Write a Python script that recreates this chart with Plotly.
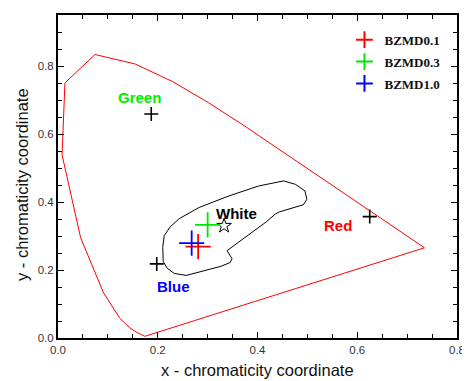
import plotly.graph_objects as go

# CIE 1931 spectral locus (closed by the purple line)
locus_x = [0.1741, 0.1644, 0.1566, 0.1440, 0.1241, 0.0913, 0.0454, 0.0082, 0.0139,
           0.0743, 0.1547, 0.2296, 0.3016, 0.3731, 0.4441, 0.5125, 0.5752, 0.6270,
           0.6658, 0.6915, 0.7347, 0.1741]
locus_y = [0.0050, 0.0109, 0.0177, 0.0297, 0.0578, 0.1327, 0.2950, 0.5384, 0.7502,
           0.8338, 0.8059, 0.7543, 0.6923, 0.6245, 0.5547, 0.4866, 0.4242, 0.3725,
           0.3340, 0.3083, 0.2653, 0.0050]

# white-light region contour
white_x = [0.210, 0.213, 0.225, 0.243, 0.283, 0.343, 0.402, 0.452, 0.476, 0.495,
           0.499, 0.492, 0.444, 0.436, 0.418, 0.382, 0.343, 0.339, 0.349, 0.345,
           0.327, 0.283, 0.257, 0.233, 0.219, 0.211, 0.210]
white_y = [0.267, 0.301, 0.327, 0.351, 0.384, 0.418, 0.447, 0.462, 0.452, 0.433,
           0.408, 0.392, 0.371, 0.365, 0.342, 0.304, 0.262, 0.257, 0.233, 0.222,
           0.211, 0.193, 0.184, 0.190, 0.205, 0.225, 0.267]

# reference primaries (black +)
ref_x = [0.187, 0.198, 0.625]
ref_y = [0.659, 0.218, 0.357]

# white point
wp_x = [0.333]
wp_y = [0.330]

# samples
sample_names = ["BZMD0.1", "BZMD0.3", "BZMD1.0"]
sample_x = [0.281, 0.300, 0.268]
sample_y = [0.269, 0.333, 0.279]
sample_colors = ["#ff0000", "#00e600", "#0000ff"]

# text labels
label_text = ["Green", "Blue", "Red", "White"]
label_x = [0.163, 0.231, 0.562, 0.357]
label_y = [0.707, 0.152, 0.330, 0.365]
label_colors = ["#00ee00", "#0000ff", "#ff0000", "#000000"]

fig = go.Figure()
fig.add_trace(go.Scatter(x=locus_x, y=locus_y, mode="lines",
                         line=dict(color="#ff0000", width=1), showlegend=False,
                         hoverinfo="skip"))
fig.add_trace(go.Scatter(x=white_x, y=white_y, mode="lines",
                         line=dict(color="#000000", width=1), showlegend=False,
                         hoverinfo="skip"))
fig.add_trace(go.Scatter(x=ref_x, y=ref_y, mode="markers",
                         marker=dict(symbol="cross-thin", size=10,
                                     line=dict(color="#000000", width=1.6)),
                         showlegend=False))
fig.add_trace(go.Scatter(x=wp_x, y=wp_y, mode="markers",
                         marker=dict(symbol="star-open", size=11, color="#000000",
                                     line=dict(color="#000000", width=1)),
                         showlegend=False))
for i in range(len(sample_names)):
    fig.add_trace(go.Scatter(x=[sample_x[i]], y=[sample_y[i]], mode="markers",
                             name=sample_names[i], legendgroup=sample_names[i],
                             marker=dict(symbol="cross-thin", size=18,
                                         color=sample_colors[i],
                                         line=dict(color=sample_colors[i], width=1.8))))

for t, x, y, c in zip(label_text, label_x, label_y, label_colors):
    fig.add_annotation(x=x, y=y, text="<b>" + t + "</b>", showarrow=False,
                       font=dict(family="Liberation Sans, Arial", size=15, color=c))

# axis titles
fig.add_annotation(xref="paper", yref="paper", x=0.5, y=-0.1, yanchor="middle",
                   text="x - chromaticity coordinate", showarrow=False,
                   font=dict(family="Liberation Sans, Arial", size=16.5, color="#111"))
fig.add_annotation(xref="paper", yref="paper", x=-0.09, y=0.474, xanchor="center",
                   text="y - chromaticity coordinate", showarrow=False, textangle=-90,
                   font=dict(family="Liberation Sans, Arial", size=16.5, color="#111"))

axis_common = dict(showgrid=False, zeroline=False, showline=True, linecolor="#000",
                   linewidth=2, mirror="allticks", ticks="inside", ticklen=6,
                   tickwidth=1, tickcolor="#000",
                   tickfont=dict(family="Liberation Sans, Arial", size=11.5,
                                 color="#333"),
                   tickformat=".1f")
fig.update_xaxes(range=[0, 0.8], dtick=0.2, tick0=0,
                 minor=dict(dtick=0.05, ticks="inside", ticklen=4, tickcolor="#000"),
                 **axis_common)
fig.update_yaxes(range=[0, 0.95], dtick=0.2, tick0=0,
                 minor=dict(dtick=0.05, ticks="inside", ticklen=4, tickcolor="#000"),
                 **axis_common)

# the page body adds an 8px offset, so the figure is sized to compensate
fig.update_layout(
    width=462, height=373,
    margin=dict(l=50, r=10, t=5, b=43),
    plot_bgcolor="white", paper_bgcolor="white",
    legend=dict(x=0.718, y=0.97, xanchor="left", yanchor="top",
                bgcolor="rgba(0,0,0,0)", itemsizing="constant",
                tracegroupgap=2,
                font=dict(family="Liberation Serif, Times New Roman", size=13,
                          color="#111", weight="bold")),
)

fig.write_html("out.html")
